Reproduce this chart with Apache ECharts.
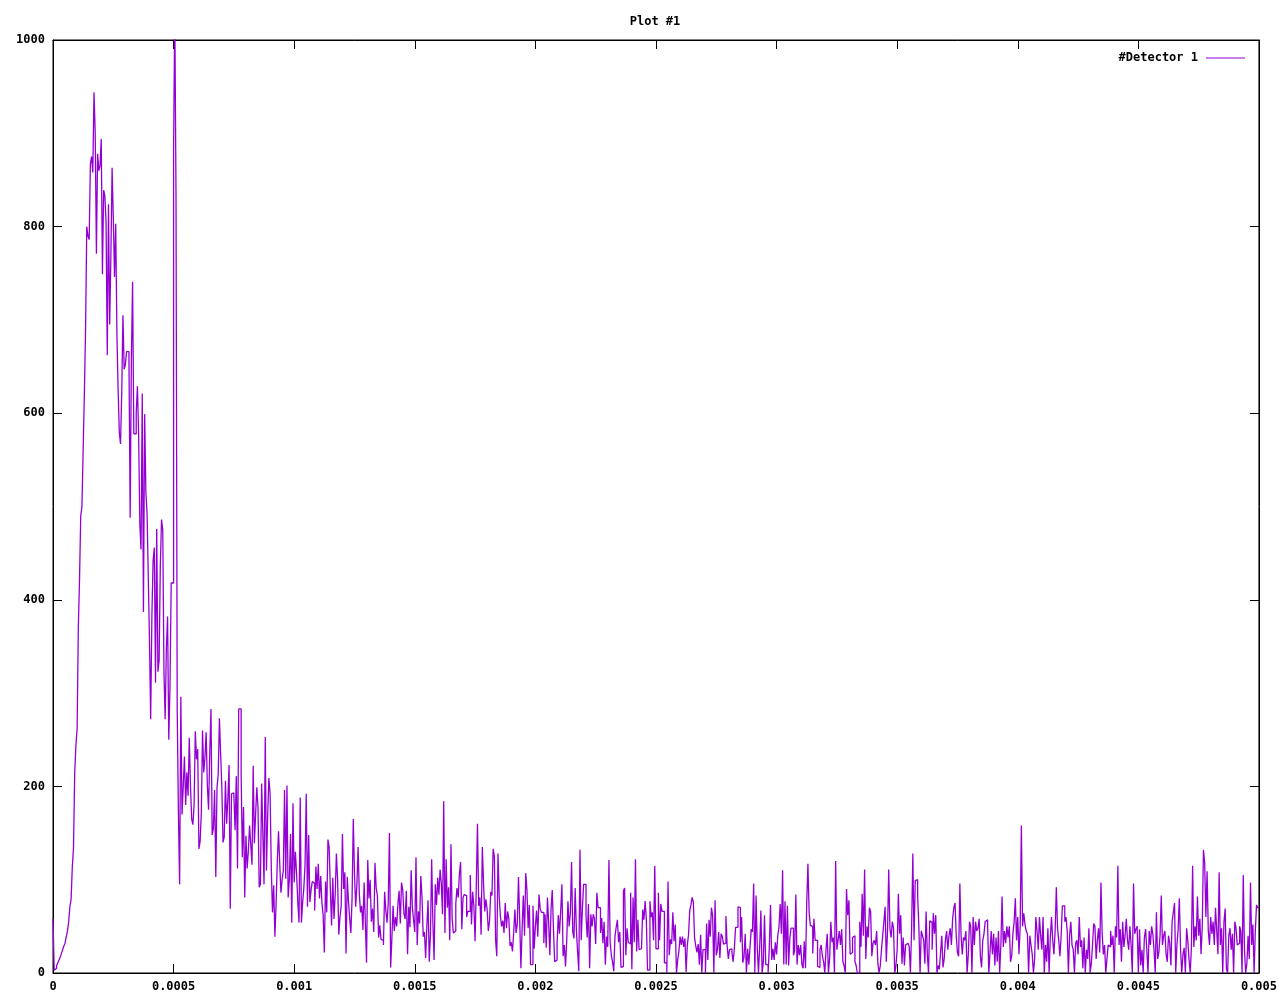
<!DOCTYPE html>
<html>
<head>
<meta charset="utf-8">
<script src="https://cdn.jsdelivr.net/npm/echarts@6/dist/echarts.min.js"></script>
<style>
html,body{margin:0;padding:0;background:#fff;}
#chart{width:1280px;height:1000px;}
</style>
</head>
<body>
<div id="chart"></div>
<script>
// ---- Data (bin counts, bin width 5e-6 s) ----
const binWidth = 0.000005;
const seriesName = '#Detector 1';
const titleText = 'Plot #1';

// bins 0-112: rise, main peak, decay and the spike at 0.0005
const countsRise = [
58,3,5,8,11,14,17,21,25,29,32,39,45,55,71,79,113,134,215,244,262,370,422,490,500,560,620,689,
800,790,786,867,875,858,944,900,771,878,860,
865,894,749,839,833,804,662,824,695,768,863,810,746,803,685,
625,579,567,622,705,647,652,666,666,656,488,659,741,578,578,600,629,577,481,454,
621,387,599,516,493,425,356,272,382,442,456,311,476,323,335,437,486,475,324,272,
348,382,250,306,418,418,
885,1030,835,282,172,95,296,170,200,232,180,215,190
];

// bins 113-279
const countsDecay = [
252,201,165,159,180,259,229,240,133,141,172,
260,215,231,258,201,175,236,283,148,155,196,
103,199,213,273,235,199,140,146,206,160,187,
223,69,192,193,190,153,211,112,283,283,214,
124,178,81,147,112,131,158,137,116,222,139,
170,199,177,92,95,203,150,95,253,110,168,
209,193,113,65,94,39,74,120,152,118,86,
100,110,196,101,201,81,100,149,54,182,97,
130,106,76,54,188,54,76,91,116,192,71,
148,76,89,98,96,67,114,90,117,80,104,
75,62,22,98,65,143,135,89,51,102,58,84,
128,100,41,60,72,149,90,108,21,103,77,59,
43,80,165,106,71,95,135,85,65,72,46,97,
54,11,121,80,100,55,69,44,118,91,83,38,
51,36,35,30,87,67,54,75,150
];

// bins 280-453
const countsMid = [
6,37,72,45,60,50,74,88,53,97,89,64,58,88,20,71,49,110,70,57,
44,124,30,66,53,104,81,39,44,16,50,78,12,41,122,55,14,95,73,102,
84,111,96,63,184,43,122,70,92,35,138,58,43,45,74,91,81,106,119,47,
81,84,83,60,66,66,105,52,87,72,34,93,160,72,81,41,135,97,66,79,
68,45,56,87,83,133,125,36,18,128,82,61,50,56,43,75,48,66,58,29,
33,23,43,68,43,53,103,57,5,48,83,40,107,89,48,73,9,9,72,26,
50,67,39,84,69,65,65,32,63,27,81,54,19,69,89,47,12,14,31,62,
42,67,95,18,30,7,35,77,50,64,119,44,37,91,46,23,2,132,35,69,
95,95,61,38,74,5,63,50,63,58,31,86,70,70
];

// bins 454-636
const countsTailA = [
43,59,32,55,9,39,28,121,33,19,
12,2,39,49,57,33,44,6,7,88,
91,19,48,33,31,86,4,81,33,122,
23,57,25,26,28,68,57,77,58,3,
3,77,60,65,35,115,26,26,86,35,
74,66,66,11,11,0,98,19,36,31,
65,34,52,0,14,23,39,30,39,28,
37,1,30,41,67,73,81,76,38,29,
22,31,9,41,0,25,25,0,53,14,
57,39,70,61,0,78,19,25,44,16,
42,39,31,32,61,30,15,25,26,22,
12,26,49,49,71,70,33,60,11,17,
42,0,26,9,28,47,44,96,0,83,
27,0,28,67,0,11,62,9,9,0,
28,73,14,26,14,33,20,40,49,74,
42,110,9,77,9,72,8,37,48,48,
19,24,84,9,30,19,30,9,5,
34,5,74,117,65,51,50,21,
58,35,35,7,6,25
];

// bins 637-818
const countsTailB = [
30,18,12,0,25,42,0,15,55,33,38,0,120,25,35,45,30,47,12,8,0,90,62,
78,20,22,38,40,12,8,0,0,55,28,85,40,111,
15,50,38,70,66,18,32,35,30,45,10,0,8,25,40,55,71,12,44,111,
48,38,55,48,0,8,25,85,42,62,10,38,8,30,32,30,28,0,48,128,
35,99,100,82,50,0,45,40,35,10,66,20,0,56,54,25,64,
42,62,0,8,4,22,40,6,15,35,45,25,40,48,30,58,70,75,40,22,18,96,
40,20,38,35,45,0,20,55,50,0,60,30,55,45,48,58,18,6,35,42,55,57,
52,0,22,45,20,42,8,38,12,45,0,30,82,28,45,32,50,38,50,12,18,42,55,80,
35,60,20,50,158,50,64,52,45,42,0,40,30,20,0,15,60,45,25,60
];

// bins 819-999
const countsTailC = [
40,25,60,0,30,12,48,0,38,60,35,20,45,92,48,35,18,40,72,72,
55,60,45,0,40,55,30,25,0,32,35,20,60,
28,35,5,38,0,25,15,48,0,10,30,53,50,15,35,48,22,97,
42,20,30,0,15,30,28,45,30,40,0,50,38,115,30,47,12,55,28,40,58,
35,25,50,30,0,96,42,47,50,0,47,8,25,0,38,47,25,0,45,30,50,42,
25,0,65,15,22,40,83,30,40,45,20,12,40,32,8,55,65,75,0,30,47,80,
25,0,20,27,0,48,35,15,0,27,115,28,50,35,82,40,58,20,50,132,118,60,109,
45,30,60,42,55,30,70,45,20,108,30,48,0,55,69,5,0,40,48,25,42,
0,55,48,30,32,50,45,0,105,25,0,10,40,15,97,30,52,0,45,73,70
];

const counts = [].concat(countsRise, countsDecay, countsMid, countsTailA, countsTailB, countsTailC);

// ---- Build step data via bin edges ----
const stepData = counts.map((c, i) => [i * binWidth, c]);
stepData.push([counts.length * binWidth, counts[counts.length - 1]]);

const FONT = 'DejaVu Sans Mono';
const labelStyle = { color: '#000', fontFamily: FONT, fontWeight: 'bold', fontSize: 12 };
const axisLine = { show: true, onZero: false, lineStyle: { color: '#000', width: 1 } };
const axisTick = { show: true, inside: true, length: 9, lineStyle: { color: '#000', width: 1 } };

const chart = echarts.init(document.getElementById('chart'), null, { renderer: 'canvas' });
chart.setOption({
  animation: false,
  backgroundColor: '#fff',
  title: {
    text: titleText,
    left: 650, top: 11, textAlign: 'center',
    textStyle: { color: '#000', fontFamily: FONT, fontWeight: 'bold', fontSize: 12 }
  },
  legend: {
    data: [seriesName],
    right: 30, top: 47,
    align: 'right',
    icon: 'rect',
    itemWidth: 39, itemHeight: 1,
    textStyle: Object.assign({ padding: [0, 3, 0, 0] }, labelStyle)
  },
  grid: { left: 53, right: 21, top: 40, bottom: 27, show: true, borderColor: '#000', borderWidth: 1, containLabel: false },
  xAxis: [
    {
      type: 'value', position: 'bottom', min: 0, max: 0.005, interval: 0.0005,
      axisLine: axisLine, axisTick: axisTick, splitLine: { show: false },
      axisLabel: Object.assign({ margin: 8, formatter: v => String(+v.toFixed(4)) }, labelStyle)
    },
    {
      type: 'value', position: 'top', min: 0, max: 0.005, interval: 0.0005,
      axisLine: axisLine, axisTick: axisTick, splitLine: { show: false },
      axisLabel: { show: false }
    }
  ],
  yAxis: [
    {
      type: 'value', position: 'left', min: 0, max: 1000, interval: 200,
      axisLine: axisLine, axisTick: axisTick, splitLine: { show: false },
      axisLabel: Object.assign({ margin: 8, formatter: v => String(v) }, labelStyle)
    },
    {
      type: 'value', position: 'right', min: 0, max: 1000, interval: 200,
      axisLine: axisLine, axisTick: axisTick, splitLine: { show: false },
      axisLabel: { show: false }
    }
  ],
  series: [{
    name: seriesName,
    type: 'line',
    xAxisIndex: 0, yAxisIndex: 0,
    step: 'end',
    data: stepData,
    showSymbol: false,
    symbol: 'none',
    clip: true,
    color: '#9400D3',
    lineStyle: { color: '#9400D3', width: 1.3 },
    itemStyle: { color: '#9400D3' },
    emphasis: { disabled: true }
  }]
});
</script>
</body>
</html>
